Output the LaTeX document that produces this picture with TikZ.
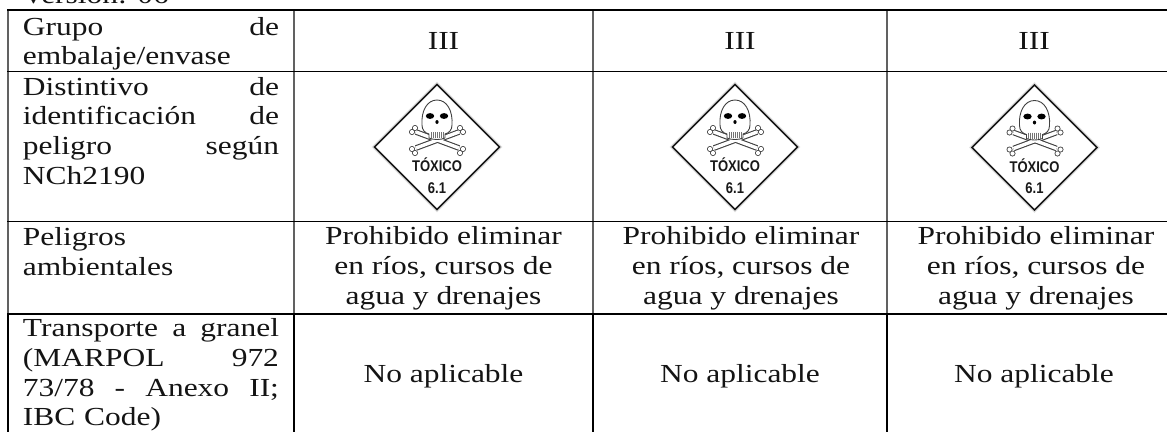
\documentclass[tikz,border=0pt]{standalone}
\usepackage{fontspec}
\setmainfont[FakeStretch=1.21]{Liberation Serif}
\newfontfamily\plfont[FakeStretch=0.84]{Liberation Sans}
\newcommand{\jline}[1]{\leavevmode\hbox to 256pt{#1}}
\tikzset{
  x=1pt,y=-1pt,
  celltext/.style={inner sep=0pt,outer sep=0pt,font=\fontsize{26pt}{29.8pt}\selectfont,text=black!92,align=center},
  firstcol/.style={celltext,anchor=north west,text width=256pt,align=left},
  hrule/.style={draw=black},
  vsoft/.style={draw=black!62,line width=1.3pt},
  vhard/.style={draw=black,line width=1.9pt},
  bone/.pic={
    \foreach \w/\r/\c/\l in {5.6/3/black!75/0,3.4/2.1/white/0}{
      \draw[line width=\w pt,draw=\c] (-21,-15)--(22,1);
      \draw[line width=\w pt,draw=\c] (-21,1)--(22,-15);
      \foreach \p in {(-25,-15),(-22,-19),(-25,2),(-22,6),(26,-15),(23,-19),(26,2),(23,6)}
        \fill[\c] \p circle (\r);
    }
  },
  placard/.pic={
    \draw[black!12,line width=4pt,line join=miter] (0,-62.5)--(62.5,0)--(0,62.5)--(-62.5,0)--cycle;
    \draw[black!90,fill=white,line width=1.6pt,line join=miter] (0,-62.5)--(62.5,0)--(0,62.5)--(-62.5,0)--cycle;
    \pic {bone};
    \draw[black!75,fill=white,line width=.9pt]
      (-8,-9) -- (-8,-13) .. controls (-12,-14) and (-15,-17) .. (-15,-22)
      .. controls (-16,-36) and (-10,-47) .. (0,-47)
      .. controls (10,-47) and (16,-36) .. (15,-22)
      .. controls (15,-17) and (12,-14) .. (8,-13) -- (8,-9)
      .. controls (4,-7) and (-4,-7) .. (-8,-9) -- cycle;
    \foreach \tx in {-6,-4,-2,0,2,4,6} \draw[black!55,line width=.5pt] (\tx,-15)--(\tx,-9);
    \fill[black] (-7,-31) ellipse (4.2 and 2.9);
    \fill[black] (7,-31) ellipse (4.2 and 2.9);
    \fill[black] (0,-25) ellipse (1.6 and 2);
    \node[inner sep=0pt,font=\plfont\bfseries\fontsize{15.5pt}{15.5pt}\selectfont,text=black!90] at (0,18) {TÓXICO};
    \node[inner sep=0pt,font=\plfont\bfseries\fontsize{15.5pt}{15.5pt}\selectfont,text=black!90] at (0,41) {6.1};
  }
}
\begin{document}
\begin{tikzpicture}
\useasboundingbox (0,0) rectangle (1167,432);
\clip (0,0) rectangle (1167,432);
\fill[white] (0,0) rectangle (1167,432);

% clipped line above the table
\node[celltext,anchor=base west] (ver) at (22,3) {Versión: 06};

% placards
\pic at (437,147) {placard};
\pic at (735,147) {placard};
\pic at (1034.5,147.5) {placard};

% grid
\foreach \gx in {8,294,593,887} {
  \draw[vsoft] (\gx,10)--(\gx,314);
  \draw[vhard] (\gx,314)--(\gx,432);
}
\draw[hrule,line width=2pt] (7,10)--(1167,10);
\draw[hrule,line width=1.7pt] (7,71.5)--(1167,71.5);
\draw[hrule,line width=1.2pt] (7,221.5)--(1167,221.5);
\draw[hrule,line width=1.7pt] (7,314)--(1167,314);

% first column
\node[firstcol] (g) at (23,17) {\jline{Grupo\hfill de}\\embalaje/envase};
\node[firstcol] (d) at (23,77) {\jline{Distintivo\hfill de}\\\jline{identificación\hfill de}\\\jline{peligro\hfill según}\\NCh2190};
\node[firstcol] (p) at (23,227.5) {Peligros\\ambientales};
\node[firstcol] (t) at (23,318.5) {\jline{Transporte\hfill a\hfill granel}\\\jline{(MARPOL\hfill 972}\\\jline{73/78\hfill -\hfill Anexo\hfill II;}\\IBC Code)};

% other columns
\node[celltext] (r1a) at (443.5,41) {III};
\node[celltext] (r1b) at (740,41) {III};
\node[celltext] (r1c) at (1034,41) {III};
\node[celltext] (r3a) at (443.5,268.5) {Prohibido eliminar\\en ríos, cursos de\\agua y drenajes};
\node[celltext] (r3b) at (741,268.5) {Prohibido eliminar\\en ríos, cursos de\\agua y drenajes};
\node[celltext] (r3c) at (1036,268.5) {Prohibido eliminar\\en ríos, cursos de\\agua y drenajes};
\node[celltext] (r4a) at (443.5,376.5) {No aplicable};
\node[celltext] (r4b) at (740,376.5) {No aplicable};
\node[celltext] (r4c) at (1034,376.5) {No aplicable};
\end{tikzpicture}
\end{document}
